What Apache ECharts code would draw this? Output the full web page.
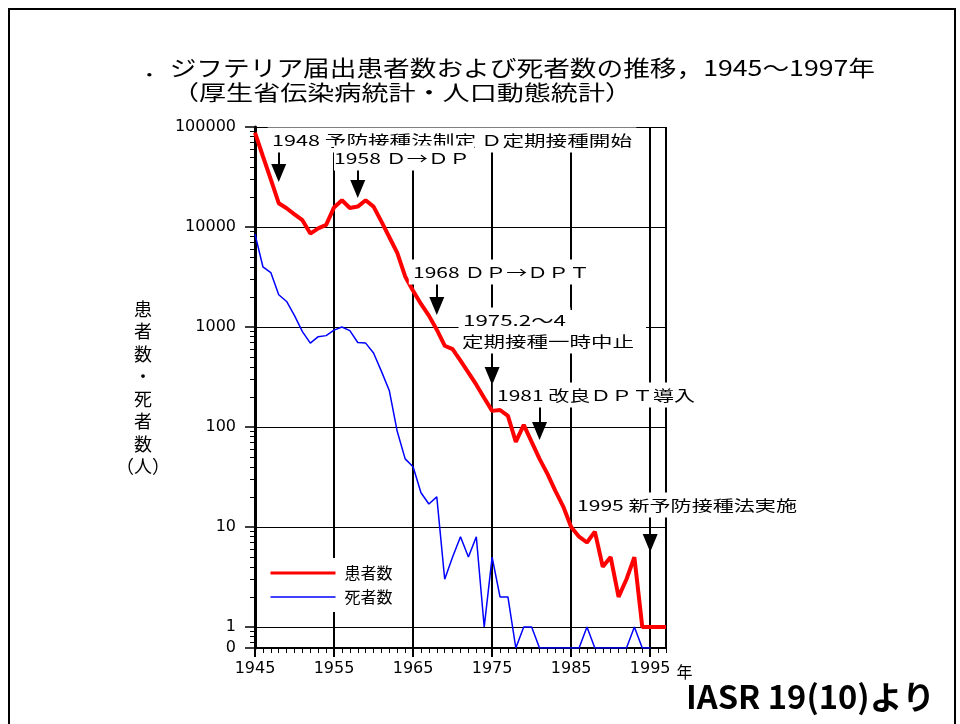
<!DOCTYPE html>
<html>
<head>
<meta charset="utf-8">
<script src="https://cdn.jsdelivr.net/npm/echarts@6/dist/echarts.min.js"></script>
<style>
  html, body { margin: 0; padding: 0; background: #fff; }
  #chart { width: 960px; height: 724px; }
</style>
</head>
<body>
<div id="chart"></div>
<script>
// Reported diphtheria cases and deaths in Japan, 1945-1997
const years = [];
for (let y = 1945; y <= 1997; y++) years.push(y);

// 患者数 (cases), 1945-1997
const cases = [
  88000, 51000, 30000, 17300, 15400, 13400, 11700, 8600, 9700, 10500,
  15700, 18500, 15500, 16000, 18500, 16000, 11300, 7900, 5500, 3200,
  2300, 1700, 1300, 940, 650, 600, 460, 350, 265, 195,
  145, 148, 129, 71, 105, 71, 48, 34, 23, 16,
  10, 8, 7, 9, 4, 5, 2, 3, 5, 1,
  1, 1, 1
];

// 死者数 (deaths), 1945-1995
const deaths = [
  8500, 4000, 3500, 2100, 1800, 1300, 900, 690, 800, 820,
  930, 1000, 920, 700, 690, 550, 360, 230, 90, 48,
  40, 22, 17, 20, 3, 5, 8, 5, 8, 1,
  5, 2, 2, 0, 1, 1, 0, 0, 0, 0,
  0, 0, 1, 0, 0, 0, 0, 0, 1, 0,
  0
];

const seriesNames = ['患者数', '死者数'];
const yTickLabels = [0, 1, 10, 100, 1000, 10000, 100000];
const xTickLabels = [1945, 1955, 1965, 1975, 1985, 1995];

const titleText = '．ジフテリア届出患者数および死者数の推移，1945～1997年';
const subtitleText = '（厚生省伝染病統計・人口動態統計）';
const sourceText = 'IASR 19(10)より';

// Vaccination policy events
const eventYears = [1948, 1958, 1968, 1975, 1981, 1995];
const eventTexts = [
  ['1948 予防接種法制定 Ｄ定期接種開始'],
  ['1958 Ｄ→ＤＰ'],
  ['1968 ＤＰ→ＤＰＴ'],
  ['1975.2～4', '定期接種一時中止'],
  ['1981 改良ＤＰＴ導入'],
  ['1995 新予防接種法実施']
];

// ---- axis mapping: log10 scale with an extra band below 1 for zero ----
const ZERO_POS = -0.21;
const toAxis = v => (v > 0 ? Math.log10(v) : ZERO_POS);
const fromAxis = a => (a < -0.1 ? '0' : String(Math.round(Math.pow(10, a))));

const yMajor = yTickLabels.map(toAxis);
const yMinor = [];
[0.7, 0.8, 0.9].forEach(v => yMinor.push(Math.log10(v)));
for (let d = 0; d < 5; d++) {
  for (let m = 2; m <= 9; m++) yMinor.push(Math.log10(m * Math.pow(10, d)));
}
const xMinor = years.filter(y => xTickLabels.indexOf(y) < 0);

// ---- layout of the annotation labels and arrows ----
const FONT_JP = '"Noto Sans CJK JP", "Noto Sans CJK SC", sans-serif';
const labelLayout = [
  [{ x: 272, y: 140, w: 360 }],
  [{ x: 334, y: 158, w: 136, padL: 0 }],
  [{ x: 413, y: 272, w: 177 }],
  [{ x: 463, y: 320, w: 103 }, { x: 462, y: 341, w: 172 }],
  [{ x: 497, y: 395, w: 198 }],
  [{ x: 577, y: 505, w: 220 }]
];
// arrow shaft top and tip, in axis units (log10)
const arrowSpan = [
  [4.79, 4.45], [4.58, 4.29], [3.48, 3.12], [2.75, 2.42], [2.22, 1.87], [1.14, 0.75]
];

const measureCtx = document.createElement('canvas').getContext('2d');
function fitScale(text, font, width) {
  measureCtx.font = font;
  return width / measureCtx.measureText(text).width;
}

const graphics = [];
// outer frame
graphics.push({
  type: 'rect', z: 200, silent: true,
  shape: { x: 9, y: 9, width: 946, height: 740 },
  style: { fill: 'none', stroke: '#000', lineWidth: 2 }
});

function addText(text, font, left, cy, width, opts) {
  opts = opts || {};
  const pad = opts.pad || [0, 0, 0, 0];
  const s = fitScale(text, font, width);
  graphics.push({
    type: 'text', z: opts.z || 100, silent: true,
    x: left - pad[3] * s, y: cy, scaleX: s,
    style: {
      text: text, font: font, fill: '#000',
      align: 'left', verticalAlign: 'middle',
      backgroundColor: opts.bg || null,
      padding: pad
    }
  });
}

addText(titleText, '22px ' + FONT_JP, 143, 68, 732);
addText(subtitleText, '21px ' + FONT_JP, 172, 92, 460);
addText(sourceText, 'bold 32px ' + FONT_JP, 686, 697, 249);

// white block behind the two-line 1975 note
graphics.push({
  type: 'rect', z: 90, silent: true,
  shape: { x: 461, y: 310, width: 185, height: 42 },
  style: { fill: '#fff' }
});
eventTexts.forEach((lines, i) => {
  lines.forEach((t, j) => {
    const L = labelLayout[i][j];
    const padL = L.padL != null ? L.padL : 3;
    addText(t, '15px ' + FONT_JP, L.x, L.y, L.w, { bg: '#fff', pad: [5, 3, 5, padL] });
  });
});

// ---- reference lines of the plot (grid) ----
const gridLineData = [];
for (let d = 0; d <= 5; d++) {
  gridLineData.push({ yAxis: d, lineStyle: { width: 1, color: '#000', type: 'solid' } });
}
[1955, 1965, 1975, 1985, 1995, 1997].forEach(x => {
  gridLineData.push({ xAxis: x, lineStyle: { width: 2, color: '#000', type: 'solid' } });
});

// ---- event arrows ----
const arrowData = eventYears.map((yr, i) => [
  { coord: [yr, arrowSpan[i][0]], symbol: 'none' },
  { coord: [yr, arrowSpan[i][1] + 0.09], symbol: 'triangle', symbolSize: [15, 18] }
]);

const chart = echarts.init(document.getElementById('chart'), null, { renderer: 'canvas' });

const axisText = { color: '#000', fontFamily: '"DejaVu Sans", sans-serif', fontSize: 16 };

chart.setOption({
  animation: false,
  backgroundColor: '#fff',
  grid: { left: 255, right: 294, top: 127, bottom: 76, containLabel: false, outerBoundsMode: 'none' },
  xAxis: [
    {
      type: 'value', min: 1945, max: 1997, position: 'bottom',
      axisLine: { show: true, onZero: false, lineStyle: { color: '#000', width: 2 } },
      axisTick: { show: true, customValues: xTickLabels, length: 9, lineStyle: { color: '#000', width: 2 } },
      axisLabel: Object.assign({ customValues: xTickLabels, margin: 13, formatter: v => String(v) }, axisText),
      splitLine: { show: false },
      name: '年', nameLocation: 'end', nameGap: 10,
      nameTextStyle: Object.assign({}, axisText, { fontFamily: FONT_JP, align: 'left', verticalAlign: 'top', padding: [16, 0, 0, 0] })
    },
    {
      type: 'value', min: 1945, max: 1997, position: 'bottom',
      axisLine: { show: false, onZero: false },
      axisTick: { show: true, customValues: xMinor, length: 5, lineStyle: { color: '#000', width: 1 } },
      axisLabel: { show: false },
      splitLine: { show: false }
    }
  ],
  yAxis: [
    {
      type: 'value', min: ZERO_POS, max: 5, position: 'left',
      axisLine: { show: true, onZero: false, lineStyle: { color: '#000', width: 3 } },
      axisTick: { show: true, customValues: yMajor, length: 10, lineStyle: { color: '#000', width: 1.5 } },
      axisLabel: Object.assign({ customValues: yMajor, margin: 19, formatter: fromAxis }, axisText),
      splitLine: { show: false },
      name: '患\n者\n数\n・\n死\n者\n数\n（人）',
      nameLocation: 'middle', nameRotate: 0, nameGap: 99,
      nameTextStyle: { color: '#000', fontFamily: FONT_JP, fontSize: 18, lineHeight: 22.5, align: 'center', verticalAlign: 'middle', padding: [8, 0, 0, 0] }
    },
    {
      type: 'value', min: ZERO_POS, max: 5, position: 'left',
      axisLine: { show: false, onZero: false },
      axisTick: { show: true, customValues: yMinor, length: 5, lineStyle: { color: '#000', width: 1 } },
      axisLabel: { show: false },
      splitLine: { show: false }
    }
  ],
  legend: {
    left: 262, top: 558, orient: 'vertical',
    itemWidth: 65, itemHeight: 14, itemGap: 8, padding: 7,
    backgroundColor: '#fff', selectedMode: false,
    itemStyle: { opacity: 0, borderWidth: 0 },
    textStyle: { color: '#000', fontFamily: FONT_JP, fontSize: 16, padding: [0, 0, 0, 4] },
    data: [
      { name: seriesNames[0], lineStyle: { width: 3 }, itemStyle: { opacity: 0, borderWidth: 0 } },
      { name: seriesNames[1], lineStyle: { width: 1.5 }, itemStyle: { opacity: 0, borderWidth: 0 } }
    ]
  },
  graphic: { z: 100, elements: graphics },
  series: [
    {
      type: 'line', name: 'grid', data: [], z: 1, silent: true,
      markLine: { silent: true, z: 1, symbol: ['none', 'none'], label: { show: false }, animation: false, data: gridLineData }
    },
    {
      type: 'line', name: seriesNames[1], z: 3,
      data: deaths.map((v, i) => [years[i], toAxis(v)]),
      symbol: 'none', showSymbol: false,
      lineStyle: { color: '#0000ff', width: 1.5 }, itemStyle: { color: '#0000ff' }
    },
    {
      type: 'line', name: seriesNames[0], z: 4,
      data: cases.map((v, i) => [years[i], toAxis(v)]),
      symbol: 'none', showSymbol: false,
      lineStyle: { color: '#ff0000', width: 4 }, itemStyle: { color: '#ff0000' }
    },
    {
      type: 'line', name: 'events', data: [], z: 5, silent: true,
      markLine: {
        silent: true, label: { show: false }, animation: false,
        lineStyle: { color: '#000', width: 2, type: 'solid' },
        itemStyle: { color: '#000' },
        data: arrowData
      }
    }
  ]
});
</script>
</body>
</html>
